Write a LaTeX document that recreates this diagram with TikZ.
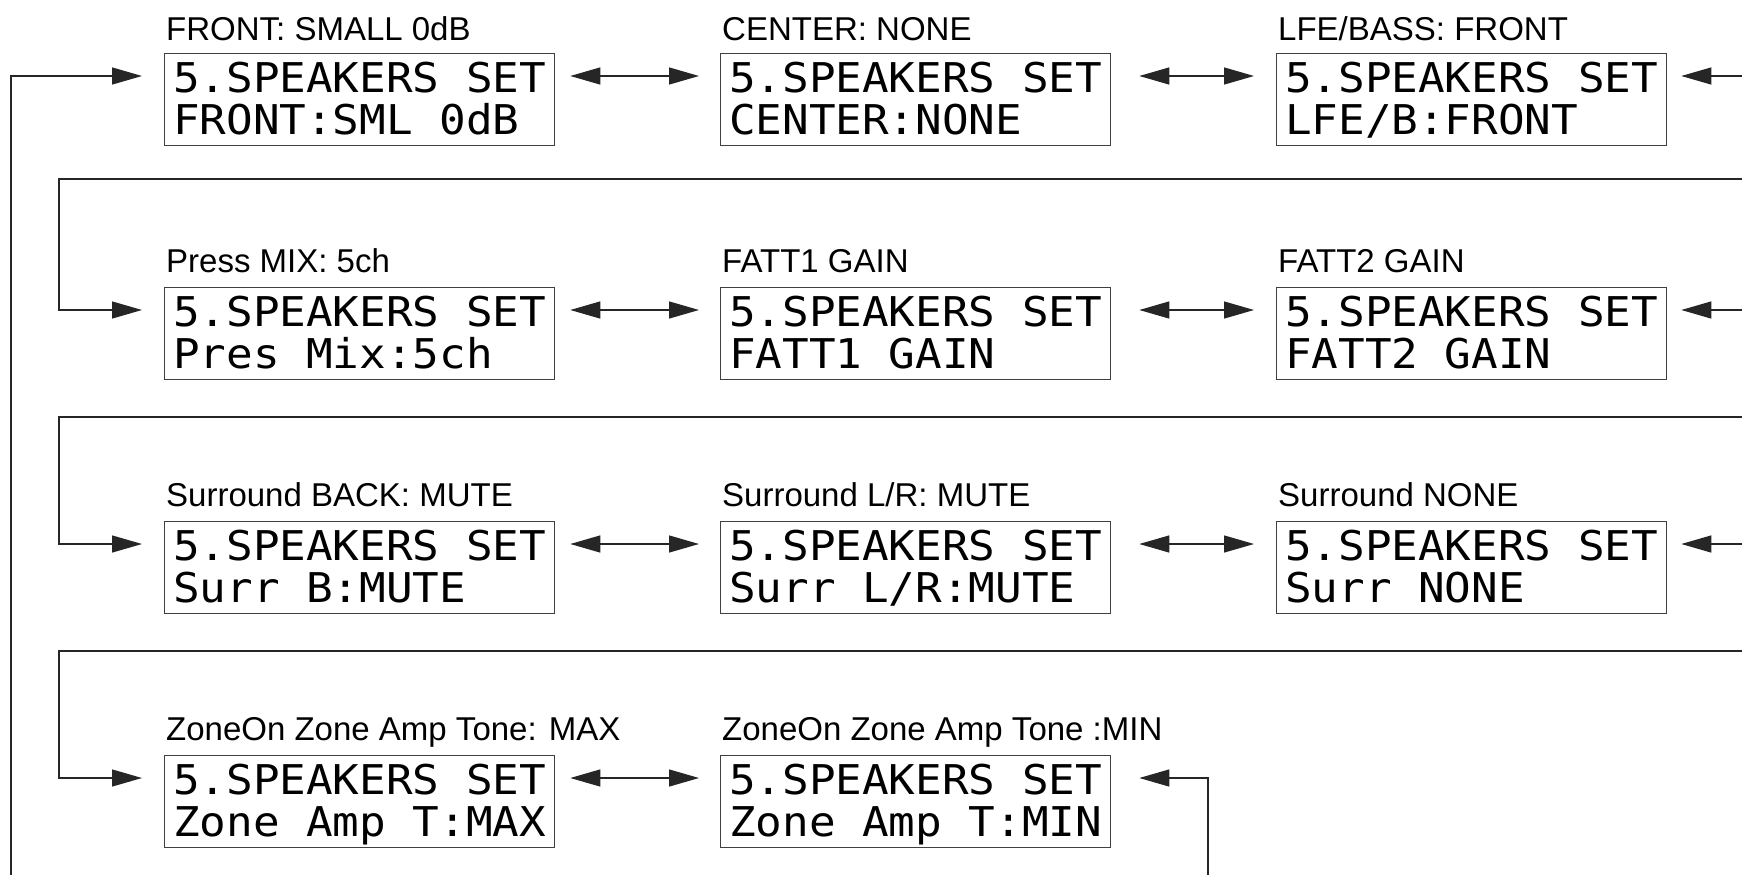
\documentclass[tikz,border=0pt]{standalone}
\usepackage{fontspec}
\usetikzlibrary{positioning,calc,arrows.meta}
\newfontfamily\lcdfont[FakeStretch=1.08]{DejaVu Sans Mono}
\newfontfamily\tagfont{Liberation Sans}
\newcommand{\lcd}[1]{\settowidth{\spaceskip}{0}\rule{0pt}{39pt}5.SPEAKERS SET\\#1\rule[-11pt]{0pt}{11pt}}

\begin{document}
\begin{tikzpicture}[x=1pt, y=-1pt, >={Triangle[length=30pt,width=17pt]},
  lcd/.style = {draw=black!75, line width=1.3pt, anchor=north west, inner xsep=4pt, inner ysep=0pt, minimum width=390pt, minimum height=92pt, align=left, font={\lcdfont\fontsize{41}{42}\selectfont}},
  tag/.style = {anchor=base west, inner sep=0pt, font={\tagfont\fontsize{33}{40}\selectfont}},
  flow/.style = {draw=black!85, line width=1.3pt, ->},
  both/.style = {flow, <->}]

\useasboundingbox (0,0) rectangle (1742,875);

% displays
\node[lcd] (b11) at (164,53) {\lcd{FRONT:SML 0dB}};
\node[lcd] (b12) at (720,53) {\lcd{CENTER:NONE}};
\node[lcd] (b13) at (1276,53) {\lcd{LFE/B:FRONT}};
\node[lcd] (b21) at (164,287) {\lcd{Pres Mix:5ch}};
\node[lcd] (b22) at (720,287) {\lcd{FATT1 GAIN}};
\node[lcd] (b23) at (1276,287) {\lcd{FATT2 GAIN}};
\node[lcd] (b31) at (164,521) {\lcd{Surr B:MUTE}};
\node[lcd] (b32) at (720,521) {\lcd{Surr L/R:MUTE}};
\node[lcd] (b33) at (1276,521) {\lcd{Surr NONE}};
\node[lcd] (b41) at (164,755) {\lcd{Zone Amp T:MAX}};
\node[lcd] (b42) at (720,755) {\lcd{Zone Amp T:MIN}};

% captions
\node[tag] (t11) at ([shift={(2,-12)}]b11.north west) {FRONT: SMALL 0dB};
\node[tag] (t12) at ([shift={(2,-12)}]b12.north west) {CENTER: NONE};
\node[tag] (t13) at ([shift={(2,-12)}]b13.north west) {LFE/BASS: FRONT};
\node[tag] (t21) at ([shift={(2,-15)}]b21.north west) {Press MIX: 5ch};
\node[tag] (t22) at ([shift={(2,-15)}]b22.north west) {FATT1 GAIN};
\node[tag] (t23) at ([shift={(2,-15)}]b23.north west) {FATT2 GAIN};
\node[tag] (t31) at ([shift={(2,-15)}]b31.north west) {Surround BACK: MUTE};
\node[tag] (t32) at ([shift={(2,-15)}]b32.north west) {Surround L/R: MUTE};
\node[tag] (t33) at ([shift={(2,-15)}]b33.north west) {Surround NONE};
\node[tag] (t41) at ([shift={(2,-15)}]b41.north west) {ZoneOn Zone Amp Tone: MAX};
\node[tag] (t42) at ([shift={(2,-15)}]b42.north west) {ZoneOn Zone Amp Tone :MIN};

% loose ends at the page edges
\coordinate (s0) at (11,875);
\coordinate (s1) at (1742,179);
\coordinate (s2) at (1742,417);
\coordinate (s3) at (1742,651);
\coordinate (s4) at (1208,875);
\coordinate (r1) at (1742,76);
\coordinate (r2) at (1742,310);
\coordinate (r3) at (1742,544);

% back and forth
\foreach \r in {1,2,3} {
  \draw[both] ([shift={(15,23)}]b\r1.north east) -- ([shift={(-21,23)}]b\r2.north west);
  \draw[both] ([shift={(28,23)}]b\r2.north east) -- ([shift={(-22,23)}]b\r3.north west);
  \draw[flow] (r\r) -- ([shift={(14,23)}]b\r3.north east);
}
\draw[both] ([shift={(15,23)}]b41.north east) -- ([shift={(-21,23)}]b42.north west);

% row changes
\draw[flow] (s0) |- ([shift={(-22,23)}]b11.north west);
\draw[flow] (s1) -| ([shift={(-105,23)}]b21.north west) -- ([shift={(-22,23)}]b21.north west);
\draw[flow] (s2) -| ([shift={(-105,23)}]b31.north west) -- ([shift={(-22,23)}]b31.north west);
\draw[flow] (s3) -| ([shift={(-105,23)}]b41.north west) -- ([shift={(-22,23)}]b41.north west);
\draw[flow] (s4) |- ([shift={(28,23)}]b42.north east);
\end{tikzpicture}
\end{document}
